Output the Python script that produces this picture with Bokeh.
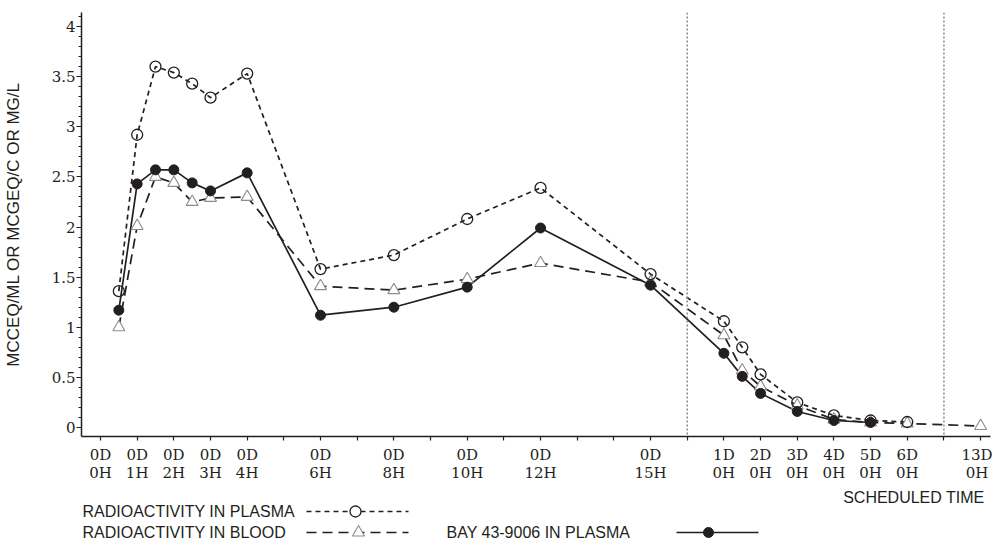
from bokeh.plotting import figure
from bokeh.models import Range1d, FixedTicker, Span
from bokeh.layouts import column
from bokeh.embed import file_html
from bokeh.resources import INLINE
from bokeh.core.properties import value

# ---------------- data (scheduled time in hours) ----------------
plasma_hours = [0.5, 1, 1.5, 2, 2.5, 3, 4, 6, 8, 10, 12, 15, 24, 36, 48, 72, 96, 120, 144]
plasma_vals = [1.36, 2.92, 3.60, 3.54, 3.43, 3.29, 3.53, 1.58, 1.72, 2.08, 2.39, 1.53,
               1.06, 0.80, 0.53, 0.25, 0.12, 0.07, 0.055]

blood_hours = [0.5, 1, 1.5, 2, 2.5, 3, 4, 6, 8, 10, 12, 15, 24, 36, 48, 72, 96, 120, 144, 312]
blood_vals = [1.00, 2.01, 2.50, 2.44, 2.25, 2.29, 2.30, 1.41, 1.37, 1.48, 1.64, 1.45,
              0.92, 0.57, 0.41, 0.22, 0.08, 0.05, 0.04, 0.015]

bay_hours = [0.5, 1, 1.5, 2, 2.5, 3, 4, 6, 8, 10, 12, 15, 24, 36, 48, 72, 96, 120]
bay_vals = [1.17, 2.43, 2.57, 2.57, 2.44, 2.36, 2.54, 1.12, 1.20, 1.40, 1.99, 1.42,
            0.74, 0.51, 0.34, 0.16, 0.07, 0.05]

x_tick_positions = list(range(25))
x_tick_labels = ["0D\n0H", "0D\n1H", "0D\n2H", "0D\n3H", "0D\n4H", "", "0D\n6H", "",
                 "0D\n8H", "", "0D\n10H", "", "0D\n12H", "", "", "0D\n15H", "",
                 "1D\n0H", "2D\n0H", "3D\n0H", "4D\n0H", "5D\n0H", "6D\n0H", "", "13D\n0H"]
axis_breaks = [16, 23]

y_ticks = [0, 0.5, 1, 1.5, 2, 2.5, 3, 3.5, 4]
y_tick_labels = ["0", "0.5", "1", "1.5", "2", "2.5", "3", "3.5", "4"]

y_title = "MCCEQ/ML OR MCGEQ/C OR MG/L"
x_title = "SCHEDULED TIME"
series_names = ["RADIOACTIVITY IN PLASMA", "RADIOACTIVITY IN BLOOD", "BAY 43-9006 IN PLASMA"]


def axis_pos(h):
    """Broken time axis: hourly up to 15H, then daily (1D..6D), then 13D."""
    if h <= 15:
        return h
    d = h / 24.0
    if d <= 6:
        return 16 + d
    return 24 + (d - 13)


INK = "#231f20"
GRAY_TRI = "#8c8c8c"
SERIF = "DejaVu Serif"
SANS = "Liberation Sans"

X0, X1 = -0.518, 24.27
p = figure(frame_width=909, frame_height=424, output_backend="svg", toolbar_location=None,
           x_range=Range1d(X0, X1), y_range=Range1d(-0.0898, 4.1397),
           min_border_left=73, min_border_right=2, min_border_top=12, min_border_bottom=50)
p.grid.visible = False
p.outline_line_color = None

# y axis
p.yaxis.ticker = FixedTicker(ticks=y_ticks, minor_ticks=[round(0.1 * i, 1) for i in range(42)])
p.yaxis.major_label_overrides = {float(t): l for t, l in zip(y_ticks, y_tick_labels)}
p.yaxis.axis_label = y_title
p.yaxis.axis_label_text_font = SANS
p.yaxis.axis_label_text_font_size = "17px"
p.yaxis.axis_label_text_font_style = "normal"
p.yaxis.axis_label_text_color = INK
p.yaxis.axis_label_standoff = 26
p.yaxis.major_tick_out = 5
p.yaxis.major_tick_in = 0
p.yaxis.minor_tick_out = 3
p.yaxis.minor_tick_in = 0
p.yaxis.major_label_standoff = 1

# x axis
p.xaxis.ticker = FixedTicker(ticks=x_tick_positions, minor_ticks=[])
p.xaxis.major_label_overrides = {t: l for t, l in zip(x_tick_positions, x_tick_labels)}
p.xaxis.major_tick_out = 4
p.xaxis.major_tick_in = 0
p.xaxis.major_label_standoff = 5
p.xaxis.major_label_text_line_height = 1.0

for ax in (p.xaxis, p.yaxis):
    ax.axis_line_color = INK
    ax.axis_line_width = 1.5
    ax.major_tick_line_color = INK
    ax.major_tick_line_width = 1.2
    ax.minor_tick_line_color = INK
    ax.major_label_text_font = SERIF
    ax.major_label_text_font_size = "15px"
    ax.major_label_text_color = INK

for b in axis_breaks:
    p.add_layout(Span(location=b, dimension="height", line_color="#8a8a8a",
                      line_dash="2 2", line_width=1.5))

px = [axis_pos(h) for h in plasma_hours]
bx = [axis_pos(h) for h in blood_hours]
yx = [axis_pos(h) for h in bay_hours]

p.line(px, plasma_vals, line_color=INK, line_width=1.7, line_dash="5 4")
p.line(bx, blood_vals, line_color=INK, line_width=1.7, line_dash="10 6")
p.line(yx, bay_vals, line_color=INK, line_width=1.7)

p.scatter(bx, blood_vals, marker="triangle", size=12, fill_color="white",
          line_color=GRAY_TRI, line_width=1.1)
p.scatter(px, plasma_vals, marker="circle", size=11, fill_color=None,
          line_color=INK, line_width=1.3)
p.scatter(yx, bay_vals, marker="circle", size=10, fill_color=INK, line_color=INK)

# ---------------- legend strip (page pixel coordinates) ----------------
leg = figure(frame_width=909, frame_height=54, output_backend="svg", toolbar_location=None,
             x_range=Range1d(81, 990), y_range=Range1d(540, 486),
             min_border_left=73, min_border_right=2, min_border_top=0, min_border_bottom=0,
             x_axis_location=None, y_axis_location=None)
leg.grid.visible = False
leg.outline_line_color = None

leg.text(x=[984], y=[497], text=[x_title], text_font=value(SANS), text_font_size="16px",
         text_align="right", text_baseline="middle", text_color=INK)
leg.text(x=[82, 82, 446], y=[511, 532, 532], text=series_names, text_font=value(SANS),
         text_font_size="16px", text_align="left", text_baseline="middle", text_color=INK)

leg.line([306, 408], [511, 511], line_color=INK, line_width=1.7, line_dash="5 4")
leg.scatter([355], [511], marker="circle", size=11, fill_color="white", line_color=INK, line_width=1.3)
leg.line([306, 408], [532, 532], line_color=INK, line_width=1.7, line_dash="10 6")
leg.scatter([358], [532], marker="triangle", size=12, fill_color="white", line_color=GRAY_TRI, line_width=1.1)
leg.line([676, 758], [532, 532], line_color=INK, line_width=1.7)
leg.scatter([708], [532], marker="circle", size=10, fill_color=INK, line_color=INK)

layout = column(p, leg, spacing=0)
open("out.html", "w").write(file_html(layout, INLINE))
